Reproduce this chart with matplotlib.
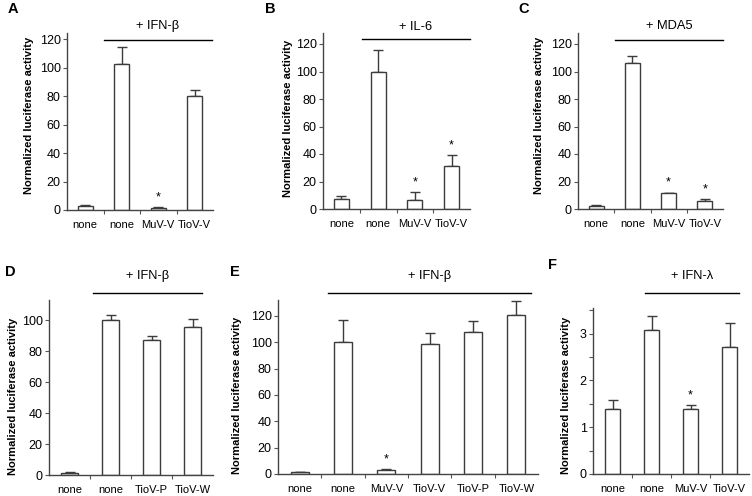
import matplotlib
matplotlib.use("Agg")
import matplotlib.pyplot as plt
import matplotlib.transforms as mtransforms
import numpy as np

plt.rcParams['font.family'] = ['Liberation Sans', 'DejaVu Sans']

W, H = 752, 496

# ---- data ----
labels_A = ['none', 'none', 'MuV-V', 'TioV-V']
vals_A = [2.5, 103, 1.5, 80]
errs_A = [0.7, 12, 0.5, 4.5]
stars_A = [2]

labels_B = ['none', 'none', 'MuV-V', 'TioV-V']
vals_B = [7, 100, 6.5, 31.5]
errs_B = [2.5, 16, 6, 7.5]
stars_B = [2, 3]

labels_C = ['none', 'none', 'MuV-V', 'TioV-V']
vals_C = [2.5, 106.5, 11.5, 5.5]
errs_C = [0.3, 4.5, 0.5, 1.5]
stars_C = [2, 3]

labels_D = ['none', 'none', 'TioV-P', 'TioV-W']
vals_D = [1.5, 100, 87, 95.5]
errs_D = [0.3, 3, 2.5, 5]
stars_D = []

labels_E = ['none', 'none', 'MuV-V', 'TioV-V', 'TioV-P', 'TioV-W']
vals_E = [1.5, 100, 3, 98.5, 108, 121]
errs_E = [0.3, 16.5, 0.8, 8.5, 8, 10.5]
stars_E = [2]

labels_F = ['none', 'none', 'MuV-V', 'TioV-V']
vals_F = [1.4, 3.08, 1.4, 2.72]
errs_F = [0.18, 0.3, 0.07, 0.5]
stars_F = [2]

# panel letter, treatment, data, axes box in pixels (x0, x1, ytop, ybottom), ylim, yticks, bracket span, label coords
panels = [
    ('A', '+ IFN-\u03b2', labels_A, vals_A, errs_A, stars_A, (67, 213, 33, 210), 124.5, np.arange(0, 121, 20), (0.5, 3.47), 0.96, 1.04, (-0.226, 0.537), (8, 9)),
    ('B', '+ IL-6', labels_B, vals_B, errs_B, stars_B, (323, 470, 33, 209), 128, np.arange(0, 121, 20), (0.55, 3.5), 0.966, 1.034, (-0.204, 0.517), (265, 9)),
    ('C', '+ MDA5', labels_C, vals_C, errs_C, stars_C, (578, 723, 33, 209), 128, np.arange(0, 121, 20), (0.52, 3.5), 0.96, 1.04, (-0.234, 0.53), (518, 9)),
    ('D', '+ IFN-\u03b2', labels_D, vals_D, errs_D, stars_D, (49, 213, 300, 475), 113, np.arange(0, 101, 20), (0.57, 3.23), 1.04, 1.137, (-0.19, 0.45), (5, 272)),
    ('E', '+ IFN-\u03b2', labels_E, vals_E, errs_E, stars_E, (278, 538, 300, 474), 132, np.arange(0, 121, 20), (0.65, 5.34), 1.04, 1.138, (-0.138, 0.454), (230, 272)),
    ('F', '+ IFN-\u03bb', labels_F, vals_F, errs_F, stars_F, (593, 749, 308, 474), 3.55, np.arange(0, 3.6, 0.5), (0.83, 3.24), 1.09, 1.19, (-0.141, 0.476), (548, 265)),
]

edge = '#3c3c3c'
fig = plt.figure(figsize=(W / 100, H / 100), dpi=100)

for (letter, treat, labels, vals, errs, stars, box, ytop, yticks,
     span, bry, txty, lab_xy, let_xy) in panels:
    x0, x1, yt, yb = box
    ax = fig.add_axes([x0 / W, 1 - yb / H, (x1 - x0) / W, (yb - yt) / H])
    n = len(labels)
    x = np.arange(n)
    ax.bar(x, vals, width=0.41, color='white', edgecolor=edge, linewidth=1.0, zorder=2)
    ax.errorbar(x, vals, yerr=[np.zeros(n), errs], fmt='none', ecolor=edge,
                elinewidth=1.0, capsize=3.5, capthick=1.0, zorder=1)
    for i in stars:
        ax.annotate('*', (x[i], vals[i] + errs[i]), xytext=(0, 7),
                    textcoords='offset points', ha='center', va='center',
                    fontsize=9)
    ax.set_xlim(-0.5, n - 0.5)
    ax.set_ylim(0, ytop)
    for s in ['top', 'right']:
        ax.spines[s].set_visible(False)
    for s in ['left', 'bottom']:
        ax.spines[s].set_color('#444444')
        ax.spines[s].set_linewidth(1.0)
    ax.set_xticks(np.arange(n - 1) + 0.5)
    ax.set_xticklabels([])
    ax.set_xticks(x, minor=True)
    ax.set_xticklabels(labels, minor=True, fontsize=8)
    ax.tick_params(axis='x', which='major', length=3, direction='out', color='#555555')
    ax.tick_params(axis='x', which='minor', length=0, pad=7)
    ax.set_yticks(yticks)
    if letter == 'F':
        ax.set_yticklabels([('%d' % v) if v == int(v) else '' for v in yticks])
    ax.tick_params(axis='y', length=3, direction='out', labelsize=9, color='#555555', pad=1.5)
    ax.set_ylabel('Normalized luciferase activity', fontsize=8, fontweight='bold')
    ax.yaxis.set_label_coords(*lab_xy)

    trans = mtransforms.blended_transform_factory(ax.transData, ax.transAxes)
    ax.plot(span, [bry, bry], color='black', linewidth=1.0, transform=trans, clip_on=False)
    ax.text((span[0] + span[1]) / 2, txty, treat, transform=trans, ha='center',
            va='center', fontsize=9.3)
    fig.text(let_xy[0] / W, 1 - let_xy[1] / H, letter, fontsize=10.5,
             fontweight='bold', ha='left', va='center')

fig.savefig('out.png', dpi=100)
